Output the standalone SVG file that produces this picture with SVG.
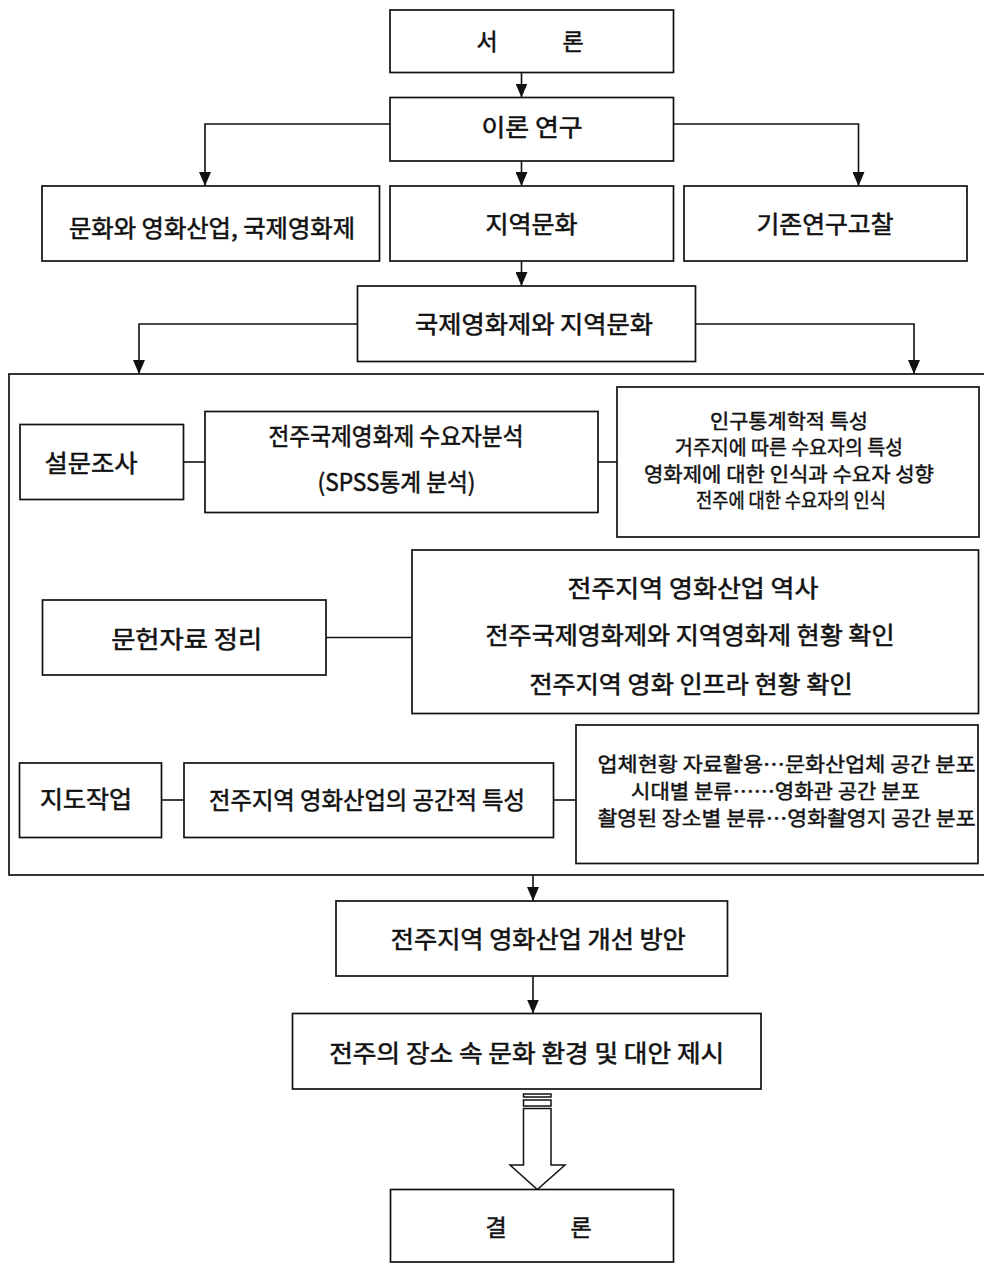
<svg xmlns="http://www.w3.org/2000/svg" width="984" height="1264" viewBox="0 0 984 1264">
<style>
.box{fill:#fff;stroke:#111;stroke-width:1.7}
.outer{fill:none;stroke:#111;stroke-width:1.7}
.ln{fill:none;stroke:#111;stroke-width:1.6}
.arr{marker-end:url(#ah)}
.hollow{fill:#fff;stroke:#111;stroke-width:1.5}
text{font-family:"Noto Sans CJK KR","Noto Sans",sans-serif;fill:#111;stroke:#111;stroke-width:0.55;text-anchor:middle}
.t{font-size:24px}
.s{font-size:20px;stroke-width:0.45}
.m{font-size:20px;stroke-width:0.45}
.big{font-size:23px}
</style>
<defs>
<marker id="ah" viewBox="0 0 14 12" refX="14" refY="6" markerWidth="14" markerHeight="12" markerUnits="userSpaceOnUse" orient="auto">
<path d="M0,0 L14,6 L0,12 z" fill="#111"/>
</marker>
</defs>
<g id="outer-frame"><rect class="outer" x="9" y="374" width="985" height="501"/></g>
<g id="connectors">
<path class="ln arr" d="M521.5,72.5 V97.5"/>
<path class="ln arr" d="M390,124 H205 V186"/>
<path class="ln arr" d="M673.5,124 H858.5 V186"/>
<path class="ln arr" d="M521.5,161 V186"/>
<path class="ln arr" d="M521.5,261 V286"/>
<path class="ln arr" d="M357.5,324 H139 V374"/>
<path class="ln arr" d="M695.5,324 H914 V374"/>
<path class="ln" d="M183.5,462 H205"/>
<path class="ln" d="M598,462 H617"/>
<path class="ln" d="M326,637.5 H412"/>
<path class="ln" d="M161.5,800 H184"/>
<path class="ln" d="M553.5,800 H576"/>
<path class="ln arr" d="M533,875 V901"/>
<path class="ln arr" d="M533,976 V1013.5"/>
<g id="hollow-arrow">
<rect class="hollow" x="523.5" y="1094" width="27.5" height="3"/>
<rect class="hollow" x="523.5" y="1100" width="27.5" height="6"/>
<path class="hollow" d="M523.5,1108.5 V1165 H510 L537.3,1189.5 L565,1165 H551 V1108.5 Z"/>
</g>
</g>
<g id="n-seoron"><rect class="box" x="390" y="10" width="283.5" height="62.5"/><text class="big" x="487" y="49.5">서</text><text class="big" x="573" y="49.5">론</text></g>
<g id="n-iron"><rect class="box" x="390" y="97.5" width="283.5" height="63.5"/><text class="t" x="532" y="135.5" textLength="101" lengthAdjust="spacingAndGlyphs">이론 연구</text></g>
<g id="n-munhwa"><rect class="box" x="42" y="186" width="337.5" height="75"/><text class="t" x="212" y="236.5" textLength="286" lengthAdjust="spacingAndGlyphs">문화와 영화산업, 국제영화제</text></g>
<g id="n-jiyeok"><rect class="box" x="390" y="186" width="283.5" height="75"/><text class="t" x="531.5" y="233" textLength="92" lengthAdjust="spacingAndGlyphs">지역문화</text></g>
<g id="n-gijon"><rect class="box" x="684" y="186" width="283" height="75"/><text class="t" x="825" y="233" textLength="137" lengthAdjust="spacingAndGlyphs">기존연구고찰</text></g>
<g id="n-gukje"><rect class="box" x="357.5" y="286" width="338" height="75.5"/><text class="t" x="534" y="333" textLength="238" lengthAdjust="spacingAndGlyphs">국제영화제와 지역문화</text></g>
<g id="n-survey"><rect class="box" x="20" y="424.5" width="163.5" height="75"/><text class="t" x="91" y="472" textLength="93" lengthAdjust="spacingAndGlyphs">설문조사</text></g>
<g id="n-demand"><rect class="box" x="205" y="411.5" width="393" height="101"/><text class="t" x="396" y="445" textLength="255" lengthAdjust="spacingAndGlyphs">전주국제영화제 수요자분석</text><text class="t" x="396.5" y="490.5" textLength="158" lengthAdjust="spacingAndGlyphs">(SPSS통계 분석)</text></g>
<g id="n-traits"><rect class="box" x="617" y="387" width="362" height="150"/>
<text class="s" x="789" y="428.5" textLength="158" lengthAdjust="spacingAndGlyphs">인구통계학적 특성</text>
<text class="s" x="789" y="455" textLength="228" lengthAdjust="spacingAndGlyphs">거주지에 따른 수요자의 특성</text>
<text class="s" x="789" y="481.5" textLength="290" lengthAdjust="spacingAndGlyphs">영화제에 대한 인식과 수요자 성향</text>
<text class="s" x="791" y="508" textLength="190" lengthAdjust="spacingAndGlyphs">전주에 대한 수요자의 인식</text></g>
<g id="n-literature"><rect class="box" x="42.5" y="600" width="283.5" height="75"/><text class="t" x="186.7" y="648" textLength="151" lengthAdjust="spacingAndGlyphs">문헌자료 정리</text></g>
<g id="n-history"><rect class="box" x="412" y="550" width="566.5" height="163.5"/>
<text class="t" x="693" y="596.5" textLength="251" lengthAdjust="spacingAndGlyphs">전주지역 영화산업 역사</text>
<text class="t" x="690" y="644" textLength="409" lengthAdjust="spacingAndGlyphs">전주국제영화제와 지역영화제 현황 확인</text>
<text class="t" x="691" y="693" textLength="323" lengthAdjust="spacingAndGlyphs">전주지역 영화 인프라 현황 확인</text></g>
<g id="n-map"><rect class="box" x="19.5" y="763" width="142" height="74.5"/><text class="t" x="86" y="808" textLength="92" lengthAdjust="spacingAndGlyphs">지도작업</text></g>
<g id="n-spatial"><rect class="box" x="184" y="763" width="369.5" height="74.5"/><text class="t" x="367" y="809" textLength="316" lengthAdjust="spacingAndGlyphs">전주지역 영화산업의 공간적 특성</text></g>
<g id="n-distribution"><rect class="box" x="576" y="725" width="402" height="138.5"/>
<text class="m" x="786.5" y="771.5" textLength="378" lengthAdjust="spacingAndGlyphs">업체현황 자료활용…문화산업체 공간 분포</text>
<text class="m" x="775.5" y="798.5" textLength="289" lengthAdjust="spacingAndGlyphs">시대별 분류……영화관 공간 분포</text>
<text class="m" x="786.5" y="825.5" textLength="378" lengthAdjust="spacingAndGlyphs">촬영된 장소별 분류…영화촬영지 공간 분포</text></g>
<g id="n-improve"><rect class="box" x="336" y="901" width="391.5" height="75"/><text class="t" x="538.3" y="948" textLength="295" lengthAdjust="spacingAndGlyphs">전주지역 영화산업 개선 방안</text></g>
<g id="n-alternative"><rect class="box" x="292.5" y="1013.5" width="468.5" height="75.5"/><text class="t" x="526.7" y="1061.5" textLength="395" lengthAdjust="spacingAndGlyphs">전주의 장소 속 문화 환경 및 대안 제시</text></g>
<g id="n-conclusion"><rect class="box" x="390.5" y="1189.5" width="283" height="72.5"/><text class="big" x="496" y="1236">결</text><text class="big" x="581" y="1236">론</text></g>
</svg>
